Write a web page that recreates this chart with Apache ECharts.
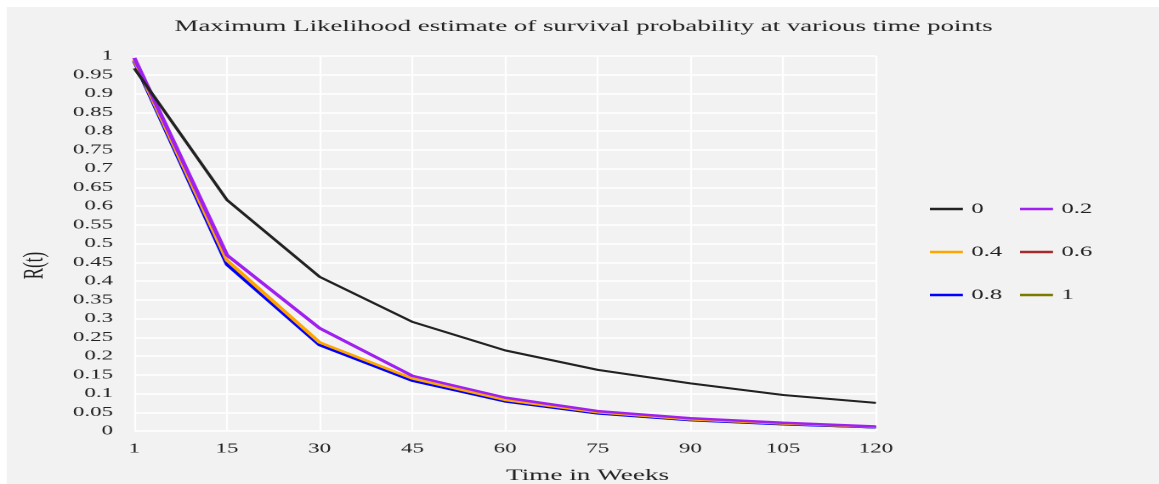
<!DOCTYPE html>
<html>
<head>
<meta charset="utf-8">
<script src="https://cdn.jsdelivr.net/npm/echarts@6/dist/echarts.min.js"></script>
<style>
  html, body { margin: 0; padding: 0; background: #ffffff; overflow: hidden; width: 100%; height: 100%; }
  /* the figure is drawn at a narrower width and stretched horizontally */
  #wrap { position: absolute; left: 0; top: 0; width: 690px; height: 500px;
          transform: scaleX(1.7); transform-origin: 0 0; }
  #chart { position: absolute; left: 4.12px; top: 7px; width: 686px; height: 493px; }
</style>
</head>
<body>
<div id="wrap"><div id="chart"></div></div>
<script>
// Time points (weeks)
const weeks = ['1', '15', '30', '45', '60', '75', '90', '105', '120'];

// Estimated survival probability R(t) for each parameter value
const r0   = [0.967, 0.616, 0.411, 0.291, 0.215, 0.163, 0.127, 0.096, 0.075];
const r02  = [0.995, 0.469, 0.274, 0.147, 0.089, 0.053, 0.034, 0.022, 0.012];
const r04  = [0.990, 0.455, 0.236, 0.140, 0.083, 0.050, 0.031, 0.020, 0.011];
const r06  = [0.988, 0.450, 0.232, 0.137, 0.081, 0.049, 0.030, 0.019, 0.010];
const r08  = [0.986, 0.444, 0.229, 0.134, 0.079, 0.047, 0.029, 0.018, 0.010];
const r1   = [0.987, 0.447, 0.231, 0.136, 0.080, 0.048, 0.0295, 0.0185, 0.010];

const seriesNames = ['0', '0.2', '0.4', '0.6', '0.8', '1'];
const seriesData  = [r0, r02, r04, r06, r08, r1];
const colors      = ['#222222', '#a020f0', '#ffa500', '#a52a2a', '#0000ff', '#7b7b00'];
const widths      = [2, 2.5, 2.5, 2.5, 2.5, 2.5];
const layers      = [8, 7, 6, 3, 5, 4];

const FONT = 'Liberation Serif';
const chart = echarts.init(document.getElementById('chart'), null, { devicePixelRatio: 2 });

// legend laid out as two columns by three rows
const legendCols = [543, 596];
const legendRows = [194.5, 237.5, 280.5];

chart.setOption({
  backgroundColor: '#f2f2f2',
  animation: false,
  color: colors,
  title: {
    text: 'Maximum Likelihood estimate of survival probability at various time points',
    left: 339.3, textAlign: 'center', top: 12, padding: 0,
    textStyle: { fontFamily: FONT, fontSize: 15.8, fontWeight: 'normal', color: '#222' }
  },
  legend: seriesNames.map((name, i) => ({
    data: [name],
    orient: 'horizontal',
    left: legendCols[i % 2],
    top: legendRows[Math.floor(i / 2)],
    padding: 0,
    icon: 'rect',
    itemWidth: 19.4,
    itemHeight: 2.5,
    textStyle: { fontFamily: FONT, fontSize: 14.5, color: '#222' }
  })),
  grid: { left: 71, width: 440.2, top: 49, height: 375, containLabel: false },
  xAxis: {
    type: 'category',
    data: weeks,
    boundaryGap: false,
    name: 'Time in Weeks',
    nameLocation: 'middle',
    nameGap: 37,
    nameTextStyle: { fontFamily: FONT, fontSize: 16, color: '#222', padding: [0, 0, 0, 97] },
    axisLine: { show: false },
    axisTick: { show: false },
    axisLabel: { fontFamily: FONT, fontSize: 13.5, color: '#222', margin: 11 },
    splitLine: { show: true, lineStyle: { color: '#ffffff', width: 1.2 } }
  },
  yAxis: {
    type: 'value',
    min: 0, max: 1, interval: 0.05,
    name: 'R(t)',
    nameLocation: 'middle',
    nameRotate: 90,
    nameGap: 50,
    nameTextStyle: { fontFamily: FONT, fontSize: 17, color: '#222', padding: [0, 44, 0, 0] },
    axisLine: { show: false },
    axisTick: { show: false },
    axisLabel: { fontFamily: FONT, fontSize: 13.5, color: '#222', margin: 12.5 },
    splitLine: { show: true, lineStyle: { color: '#ffffff', width: 1.5 } }
  },
  series: seriesNames.map((name, i) => ({
    name: name,
    type: 'line',
    data: seriesData[i],
    showSymbol: false,
    symbol: 'none',
    z: layers[i],
    lineStyle: { color: colors[i], width: widths[i] },
    itemStyle: { color: colors[i] }
  }))
});
</script>
</body>
</html>
